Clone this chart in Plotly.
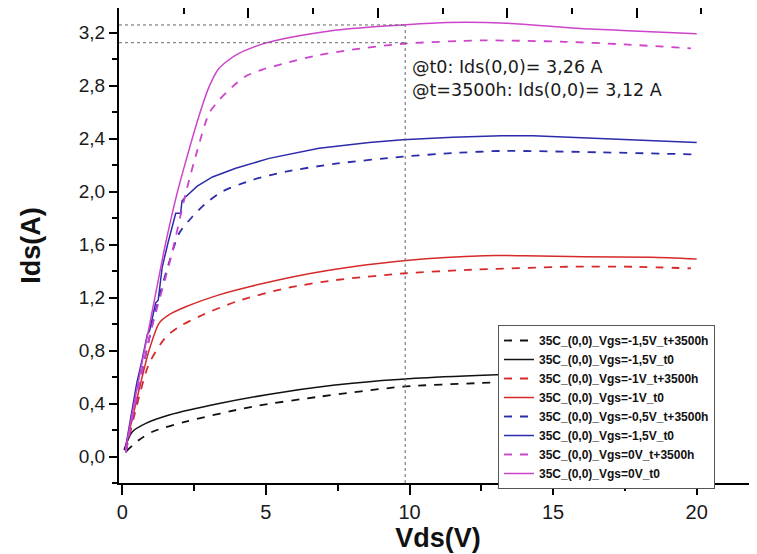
import plotly.graph_objects as go

# ---------------- data ----------------
# Vgs = -1.5 V
vds_blk_t3500 = [0.12, 0.58, 1.05, 2.21, 4.53, 6.85, 9.76, 12.5, 15.0, 17.5, 20.0]
ids_blk_t3500 = [0.036, 0.125, 0.187, 0.263, 0.376, 0.451, 0.527, 0.555, 0.575, 0.582, 0.585]
vds_blk_t0 = [0.06, 0.35, 0.82, 1.63, 3.37, 5.69, 8.01, 10.2, 12.8, 15.0, 17.5, 20.0]
ids_blk_t0 = [0.05, 0.187, 0.25, 0.313, 0.40, 0.489, 0.552, 0.59, 0.615, 0.63, 0.635, 0.635]

# Vgs = -1 V
vds_red_t3500 = [0.12, 0.5, 0.93, 1.51, 1.98, 2.79, 3.95, 5.69, 7.44, 9.87, 12.0, 15.5, 17.8, 19.8]
ids_red_t3500 = [0.04, 0.38, 0.70, 0.90, 0.98, 1.068, 1.168, 1.27, 1.332, 1.383, 1.408, 1.432, 1.432, 1.42]
vds_red_t0 = [0.12, 0.58, 0.93, 1.28, 1.63, 2.21, 3.37, 4.53, 6.27, 8.01, 9.87, 12.6, 14.0, 16.06, 18.4, 20.0]
ids_red_t0 = [0.074, 0.50, 0.80, 1.005, 1.07, 1.13, 1.22, 1.287, 1.37, 1.432, 1.48, 1.516, 1.515, 1.508, 1.503, 1.49]

# Vgs = -0.5 V
vds_blu_t3500 = [0.12, 0.6, 1.16, 1.65, 1.98, 2.44, 2.9, 3.48, 4.53, 5.69, 7.44, 9.76, 11.5, 13.2, 16.6, 19.9]
ids_blu_t3500 = [0.03, 0.55, 1.10, 1.48, 1.685, 1.81, 1.91, 2.0, 2.087, 2.15, 2.21, 2.263, 2.29, 2.306, 2.296, 2.28]
vds_blu_t0 = [0.1, 0.5, 0.70, 0.75, 0.87, 0.95, 1.16, 1.25, 1.39, 1.6, 1.86, 2.03, 2.08, 2.21, 2.61, 3.14, 3.95,
              5.11, 6.85, 8.6, 9.76, 11.5, 13.2, 14.3, 16.05, 18.4, 20.0]
ids_blu_t0 = [0.05, 0.55, 0.74, 0.80, 0.92, 0.95, 1.16, 1.18, 1.43, 1.62, 1.835, 1.835, 1.93, 1.96, 2.04, 2.11, 2.175,
              2.25, 2.326, 2.37, 2.39, 2.41, 2.42, 2.42, 2.406, 2.383, 2.37]

# Vgs = 0 V
vds_mag_t3500 = [0.12, 0.5, 1.0, 1.69, 2.2, 2.61, 3.02, 3.37, 3.83, 4.3, 4.88, 5.69, 6.85, 8.0, 9.76, 12.5, 15.4, 17.5, 19.8]
ids_mag_t3500 = [0.03, 0.45, 0.95, 1.5, 1.98, 2.31, 2.59, 2.69, 2.79, 2.87, 2.92, 2.97, 3.03, 3.07, 3.115, 3.14, 3.13, 3.11, 3.08]
vds_mag_t0 = [0.1, 0.5, 1.0, 1.5, 1.9, 2.2, 2.67, 3.02, 3.37, 3.95, 4.76, 5.34, 6.86, 8.0, 9.75, 11.3, 13.4, 15.95, 18.0, 20.0]
ids_mag_t0 = [0.04, 0.5, 1.05, 1.6, 1.98, 2.22, 2.57, 2.79, 2.93, 3.03, 3.105, 3.14, 3.20, 3.23, 3.257, 3.275, 3.27, 3.23, 3.21, 3.19]

series_names = [
    "35C_(0,0)_Vgs=-1,5V_t+3500h",
    "35C_(0,0)_Vgs=-1,5V_t0",
    "35C_(0,0)_Vgs=-1V_t+3500h",
    "35C_(0,0)_Vgs=-1V_t0",
    "35C_(0,0)_Vgs=-0,5V_t+3500h",
    "35C_(0,0)_Vgs=-1,5V_t0",
    "35C_(0,0)_Vgs=0V_t+3500h",
    "35C_(0,0)_Vgs=0V_t0",
]

# reference marker lines
ref_vds = 9.85
ref_ids = [3.257, 3.123]
annot_texts = ["@t0: Ids(0,0)= 3,26 A", "@t=3500h: Ids(0,0)= 3,12 A"]
annot_y = [2.94, 2.765]

x_ticks = [0, 5, 10, 15, 20]
y_ticks = [0.0, 0.4, 0.8, 1.2, 1.6, 2.0, 2.4, 2.8, 3.2]

# ---------------- styling ----------------
BLACK = "#111111"
RED = "#d62a2a"
BLUE = "#2b2bab"
MAG = "#cc44cc"
DASH = "8px,8px"

series = [
    (vds_blk_t3500, ids_blk_t3500, BLACK, DASH, "spline"),
    (vds_blk_t0, ids_blk_t0, BLACK, "solid", "spline"),
    (vds_red_t3500, ids_red_t3500, RED, DASH, "spline"),
    (vds_red_t0, ids_red_t0, RED, "solid", "spline"),
    (vds_blu_t3500, ids_blu_t3500, BLUE, DASH, "spline"),
    (vds_blu_t0, ids_blu_t0, BLUE, "solid", "linear"),
    (vds_mag_t3500, ids_mag_t3500, MAG, DASH, "spline"),
    (vds_mag_t0, ids_mag_t0, MAG, "solid", "spline"),
]

fig = go.Figure()

for (xs, ys, col, dash, shape), name in zip(series, series_names):
    line = dict(color=col, width=1.8 if dash != "solid" else 1.5, dash=dash, shape=shape)
    if shape == "spline":
        line["smoothing"] = 0.7
    fig.add_trace(go.Scatter(x=xs, y=ys, mode="lines", name=name, line=line))

# dummy trace so the top (mirror) axis is drawn
fig.add_trace(go.Scatter(x=[None], y=[None], xaxis="x2", yaxis="y",
                         showlegend=False, hoverinfo="skip"))

# dotted reference lines
for yv in ref_ids:
    fig.add_shape(type="line", xref="x", yref="y", x0=-0.115, x1=ref_vds, y0=yv, y1=yv,
                  line=dict(color="#666666", width=1, dash="dot"))
fig.add_shape(type="line", xref="x", yref="y", x0=ref_vds, x1=ref_vds, y0=-0.2, y1=ref_ids[0],
              line=dict(color="#666666", width=1, dash="dot"))

for txt, yv in zip(annot_texts, annot_y):
    fig.add_annotation(x=ref_vds + 0.15, y=yv, xref="x", yref="y", text=txt, showarrow=False,
                       xanchor="left", yanchor="middle",
                       font=dict(family="DejaVu Sans", size=17.5, color="#1a1a1a"))

tick_font = dict(family="Liberation Sans, Arial, sans-serif", size=19, color="#1a1a1a")
title_font = dict(family="Liberation Sans, Arial, sans-serif", size=27, color="#111111", weight="bold")

# The page body adds an 8px offset; margins compensate so the plot area lands
# at the same place as in the reference.
fig.update_layout(
    width=757, height=554,
    margin=dict(l=111, r=8, t=0, b=79),
    paper_bgcolor="white", plot_bgcolor="white",
    separators=",.",
    showlegend=True,
    legend=dict(
        x=0.594, y=0.3326, xanchor="left", yanchor="top",
        bgcolor="white", bordercolor="#555555", borderwidth=1,
        font=dict(family="Liberation Sans, Arial, sans-serif", size=12, color="#111111", weight="bold"),
        traceorder="normal",
    ),
    xaxis=dict(
        range=[-0.115, 22.1], tickmode="array", tickvals=x_ticks,
        ticks="outside", ticklen=10, tickwidth=1.5, tickcolor="black",
        minor=dict(dtick=2.5, tick0=0, ticks="outside", ticklen=6, tickwidth=1.5, tickcolor="black"),
        showline=True, linecolor="black", linewidth=2, mirror=False,
        showgrid=False, zeroline=False,
        tickfont=dict(family="Liberation Sans, Arial, sans-serif", size=20, color="#1a1a1a"),
        ticklabelstandoff=0,
        title=dict(text="Vds(V)", font=title_font, standoff=0),
    ),
    xaxis2=dict(
        overlaying="x", side="top", range=[0, 9.861], tickmode="linear", tick0=0, dtick=2,
        ticks="inside", ticklen=10, tickwidth=1.5, tickcolor="black",
        minor=dict(dtick=1, tick0=0, ticks="inside", ticklen=6, tickwidth=1.5, tickcolor="black"),
        showticklabels=False, showline=True, linecolor="black", linewidth=2,
        showgrid=False, zeroline=False,
    ),
    yaxis=dict(
        range=[-0.2, 3.385], tickmode="array", tickvals=y_ticks, tickformat=".1f",
        ticks="outside", ticklen=8, tickwidth=1.5, tickcolor="black",
        minor=dict(dtick=0.2, tick0=0, ticks="outside", ticklen=5, tickwidth=1.5, tickcolor="black"),
        showline=True, linecolor="black", linewidth=2, mirror=False,
        showgrid=False, zeroline=False,
        tickfont=tick_font,
        ticklabelstandoff=0,
        title=dict(text="Ids(A)", font=title_font, standoff=30),
    ),
)

fig.write_html("out.html")
